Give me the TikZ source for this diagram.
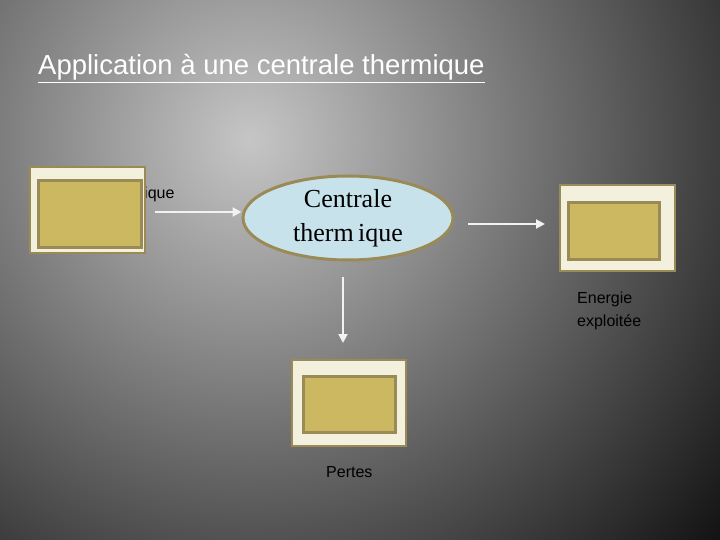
\documentclass[tikz,border=0pt]{standalone}
\usepackage{fontspec}
\setmainfont{Liberation Sans}
\newfontfamily\serif{Liberation Serif}
\usetikzlibrary{shapes.geometric,arrows.meta}
\definecolor{boxout}{HTML}{F3F1DE}
\definecolor{boxin}{HTML}{CDB862}
\definecolor{boxedge}{HTML}{9A8A55}
\definecolor{ell}{HTML}{C7E2EA}
\tikzset{
  outerbox/.style={draw=boxedge,line width=2pt,fill=boxout},
  innerbox/.style={draw=boxedge,line width=3pt,fill=boxin},
  arr/.style={draw=white!90!gray,line width=2pt,-{Triangle[length=9pt,width=9pt]}},
  lbl/.style={text=black,font=\fontsize{16}{23}\selectfont,align=left}
}
\begin{document}
\begin{tikzpicture}[x=1pt,y=-1pt]
\useasboundingbox (0,0) rectangle (720,540);
\begin{scope}
\clip (0,0) rectangle (720,540);
\shade[inner color=gray!45!white,outer color=black] (250,140) circle (680);
\end{scope}
\node[anchor=base west,text=white,font=\fontsize{27.5}{30}\selectfont,inner sep=0] (title) at (38,75) {\underline{Application à une centrale thermique}};
\node[lbl,anchor=base west,inner sep=0] (t1) at (144,199) {ique};
\draw[outerbox] (30,167) rectangle (145,253);
\draw[innerbox] (38,181) rectangle (141,247);
\node[draw=boxedge,line width=3pt,fill=ell,ellipse,minimum width=210,minimum height=84,inner sep=0,font=\serif\fontsize{26}{34}\selectfont,align=center] (c) at (348,218) {Centrale\\therm\,ique};
\coordinate (a1s) at (155,212);
\draw[arr] (a1s) -- (c.west |- a1s);
\draw[outerbox] (560,185) rectangle (675,271);
\draw[innerbox] (568,203) rectangle (659,259);
\coordinate (r1) at (468,224); \coordinate (r2) at (545,224);
\draw[arr] (r1) -- (r2);
\node[lbl,anchor=north west,inner sep=0] (e) at (577,292) {Energie\\exploitée};
\coordinate (d1) at (343,277); \coordinate (d2) at (343,343);
\draw[arr] (d1) -- (d2);
\draw[outerbox] (292,360) rectangle (406,446);
\draw[innerbox] (303,376) rectangle (395,432);
\node[lbl,anchor=base west,inner sep=0] (p) at (326,477) {Pertes};
\end{tikzpicture}
\end{document}
